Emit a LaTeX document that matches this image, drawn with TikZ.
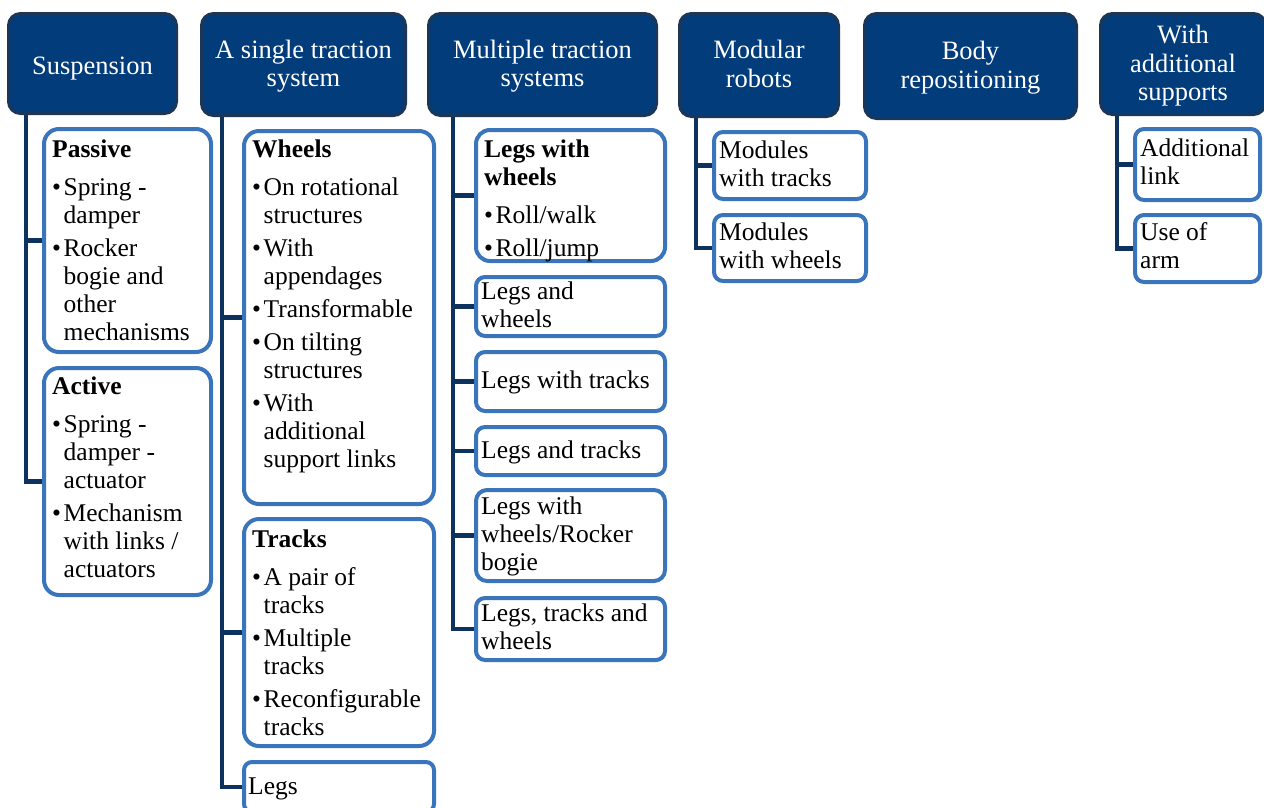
\documentclass[tikz,border=0pt]{standalone}
\usepackage{fontspec}
\setmainfont{Liberation Serif}
\usetikzlibrary{backgrounds}
\definecolor{hdrfill}{RGB}{2,60,122}
\definecolor{hdrline}{RGB}{28,54,88}
\definecolor{conncol}{RGB}{14,50,94}
\definecolor{boxline}{RGB}{58,117,188}
\newcommand\bu[1]{\makebox[11.5pt][l]{•}#1}
\newcommand\cn[1]{\hspace*{11.5pt}#1}
\newcommand\hdtop{\rule{0pt}{25pt}}
\tikzset{
 hdr/.style={draw=hdrline, fill=hdrfill, line width=3pt, rounded corners=12pt, text=white, align=center, inner sep=0pt, outer sep=0pt, anchor=north west, font=\fontsize{26.5}{28.5}\selectfont, execute at begin node=\rule{0pt}{30.5pt}, execute at end node=\strut},
 cbox/.style={draw=boxline, fill=white, line width=4pt, anchor=north west, inner sep=0pt, outer sep=0pt, rounded corners=9pt},
 txt/.style={align=left, inner sep=0pt, font=\fontsize{25.5}{28}\selectfont, execute at begin node=\strut, execute at end node=\strut},
 conn/.style={draw=conncol, line width=4.5pt}
}
\begin{document}
\begin{tikzpicture}[x=1pt,y=-1pt]
\useasboundingbox (0,0) rectangle (1264,807);
% header boxes
\node[hdr, minimum width=168pt, minimum height=100pt] (h1) at (8.5,13.5) {Suspension};
\node[hdr, minimum width=204pt, minimum height=102pt] (h2) at (201.5,13.5) {\hdtop A single traction\\system};
\node[hdr, minimum width=228pt, minimum height=102pt] (h3) at (428.5,13.5) {\hdtop Multiple traction\\systems};
\node[hdr, minimum width=159pt, minimum height=103pt] (h4) at (679.5,13.5) {\hdtop Modular\\robots};
\node[hdr, minimum width=212pt, minimum height=105pt] (h5) at (864.5,13.5) {\hdtop Body\\repositioning};
\node[hdr, minimum width=165pt, minimum height=101pt] (h6) at (1100.5,13.5) {\hdtop With\\additional\\supports};
% child boxes
\node[cbox, rounded corners=15pt, minimum width=167pt, minimum height=223pt] (passive) at (44,129) {};
\node[cbox, rounded corners=15pt, minimum width=167pt, minimum height=227pt] (active) at (44,368) {};
\node[cbox, rounded corners=15pt, minimum width=190pt, minimum height=373pt] (wheels) at (244,131) {};
\node[cbox, rounded corners=15pt, minimum width=190pt, minimum height=227pt] (tracks) at (244,519) {};
\node[cbox, rounded corners=8pt, minimum width=190pt, minimum height=50pt] (legs) at (244,762) {};
\node[cbox, rounded corners=14pt, minimum width=189pt, minimum height=131pt] (lww) at (476,130) {};
\node[cbox, minimum width=189pt, minimum height=59pt] (law) at (476,277) {};
\node[cbox, minimum width=189pt, minimum height=59pt] (lwt) at (476,352) {};
\node[cbox, minimum width=189pt, minimum height=48pt] (lat) at (476,427) {};
\node[cbox, rounded corners=11pt, minimum width=189pt, minimum height=91pt] (lwr) at (476,490) {};
\node[cbox, minimum width=189pt, minimum height=62pt] (ltw) at (476,598) {};
\node[cbox, minimum width=152pt, minimum height=67pt] (mt) at (714,132) {};
\node[cbox, minimum width=152pt, minimum height=66pt] (mw) at (714,215) {};
\node[cbox, minimum width=125pt, minimum height=71pt] (al) at (1135,129) {};
\node[cbox, minimum width=125pt, minimum height=67pt] (ua) at (1135,215) {};
% texts of the bulleted boxes
\node[txt, anchor=north west] (passive-t) at (52,139.5) {\textbf{Passive}\\[10pt]\bu{Spring -}\\\cn{damper}\\[5pt]\bu{Rocker}\\\cn{bogie and}\\\cn{other}\\\cn{mechanisms}};
\node[txt, anchor=north west] (active-t) at (52,376.5) {\textbf{Active}\\[10pt]\bu{Spring -}\\\cn{damper -}\\\cn{actuator}\\[5pt]\bu{Mechanism}\\\cn{with links /}\\\cn{actuators}};
\node[txt, anchor=north west] (wheels-t) at (252,139.5) {\textbf{Wheels}\\[10pt]\bu{On rotational}\\\cn{structures}\\[5pt]\bu{With}\\\cn{appendages}\\[5pt]\bu{Transformable}\\[5pt]\bu{On tilting}\\\cn{structures}\\[5pt]\bu{With}\\\cn{additional}\\\cn{support links}};
\node[txt, anchor=north west] (tracks-t) at (252,529.5) {\textbf{Tracks}\\[10pt]\bu{A pair of}\\\cn{tracks}\\[5pt]\bu{Multiple}\\\cn{tracks}\\[5pt]\bu{Reconfigurable}\\\cn{tracks}};
\node[txt, anchor=north west] (lww-t) at (484,139.5) {\textbf{Legs with}\\\textbf{wheels}\\[10pt]\bu{Roll/walk}\\[5pt]\bu{Roll/jump}};
% texts of the plain boxes
\node[txt, anchor=west] (legs-t) at ([xshift=4pt,yshift=-2pt]legs.west) {Legs};
\node[txt, anchor=west] (law-t) at ([xshift=5pt,yshift=-2.5pt]law.west) {Legs and\\wheels};
\node[txt, anchor=west] (lwt-t) at ([xshift=5pt,yshift=-1.5pt]lwt.west) {Legs with tracks};
\node[txt, anchor=west] (lat-t) at ([xshift=5pt,yshift=-1.5pt]lat.west) {Legs and tracks};
\node[txt, anchor=west] (lwr-t) at ([xshift=5pt,yshift=-2pt]lwr.west) {Legs with\\wheels/Rocker\\bogie};
\node[txt, anchor=west] (ltw-t) at ([xshift=5pt,yshift=-1.5pt]ltw.west) {Legs, tracks and\\wheels};
\node[txt, anchor=west] (mt-t) at ([xshift=5pt,yshift=-2pt]mt.west) {Modules\\with tracks};
\node[txt, anchor=west] (mw-t) at ([xshift=5pt,yshift=-1.5pt]mw.west) {Modules\\with wheels};
\node[txt, anchor=west] (al-t) at ([xshift=5pt,yshift=-1.5pt]al.west) {Additional\\link};
\node[txt, anchor=west] (ua-t) at ([xshift=5pt,yshift=-1.5pt]ua.west) {Use of\\arm};
% connectors
\coordinate (x1) at (26,0);
\coordinate (x2) at (222,0);
\coordinate (x3) at (453,0);
\coordinate (x4) at (696,0);
\coordinate (x6) at (1117,0);
\begin{scope}[on background layer]
\draw[conn] (h1.south -| x1) |- (passive.west);
\draw[conn] (h1.south -| x1) |- (active.west);
\draw[conn] (h2.south -| x2) |- (wheels.west);
\draw[conn] (h2.south -| x2) |- (tracks.west);
\draw[conn] (h2.south -| x2) |- (legs.west);
\draw[conn] (h3.south -| x3) |- (lww.west);
\draw[conn] (h3.south -| x3) |- (law.west);
\draw[conn] (h3.south -| x3) |- (lwt.west);
\draw[conn] (h3.south -| x3) |- (lat.west);
\draw[conn] (h3.south -| x3) |- (lwr.west);
\draw[conn] (h3.south -| x3) |- (ltw.west);
\draw[conn] (h4.south -| x4) |- (mt.west);
\draw[conn] (h4.south -| x4) |- (mw.west);
\draw[conn] (h6.south -| x6) |- (al.west);
\draw[conn] (h6.south -| x6) |- (ua.west);
\end{scope}
\end{tikzpicture}
\end{document}
